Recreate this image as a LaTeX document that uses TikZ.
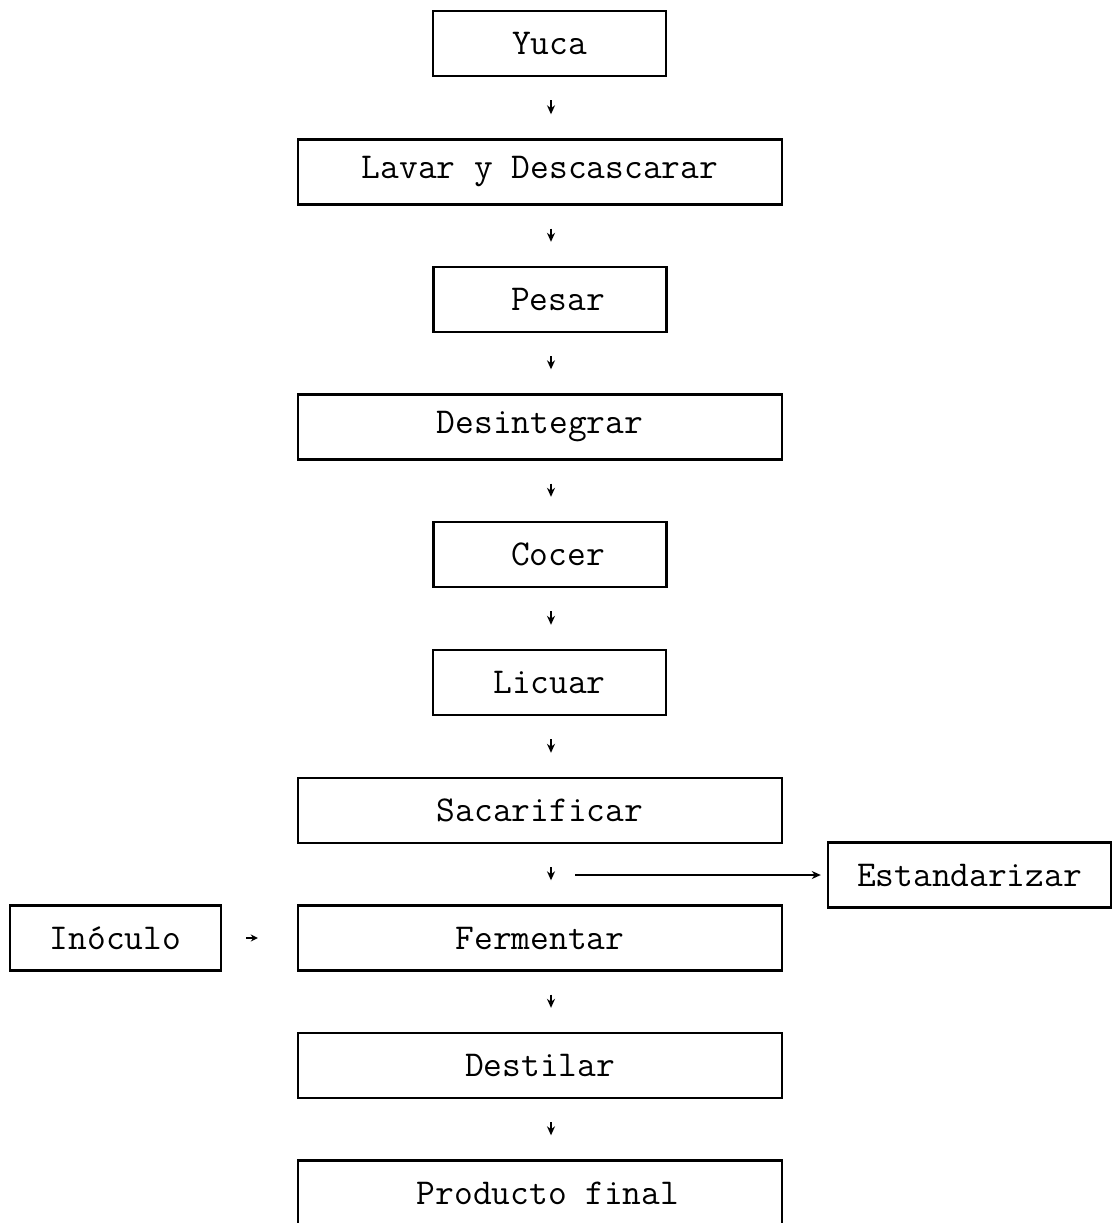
\documentclass[tikz,border=0pt]{standalone}
\usepackage{tikz}
\usetikzlibrary{arrows.meta,positioning}
\tikzset{
  >={Stealth[length=4.5pt,width=4pt]},
  stage/.style={draw=black,line width=1.2pt,minimum height=32.5pt,inner sep=0pt,
                font=\ttfamily\fontsize{18.2}{22}\selectfont},
  narrow/.style={stage,minimum width=116.5pt},
  wide/.style={stage,minimum width=242pt},
  down/.style={->,line width=.7pt,shorten <=11.5pt,shorten >=12pt},
  feed/.style={->,line width=1pt}
}
\begin{document}
\begin{tikzpicture}[x=0.5pt,y=-0.5pt]
  \useasboundingbox (0,0) rectangle (1114,1223);
  \node[narrow] (yuca) at (549.5,43.5) {Yuca};
  \node[wide] (lavar) at (540,172) {Lavar y Descascarar};
  \node[narrow] (pesar) at (550,299.5) {\hspace{8pt}Pesar};
  \node[wide] (desint) at (540,427) {Desintegrar};
  \node[narrow] (cocer) at (550,554.5) {\hspace{8pt}Cocer};
  \node[narrow] (licuar) at (549.5,682.5) {Licuar};
  \node[wide] (sacar) at (540,810.5) {Sacarificar};
  \node[wide] (ferm) at (540,938) {Fermentar};
  \node[wide] (destil) at (540,1065.5) {Destilar\hspace{10pt}};
  \node[wide] (prod) at (540,1193) {\hspace{8pt}Producto final};
  \node[stage,minimum width=141.5pt] (estand) at (969.5,875) {Estandarizar};
  \node[stage,minimum width=105.5pt] (inoc) at (115.5,938) {Inóculo};
  \coordinate (axis) at (551,0);
  \coordinate (split) at (575,875);
  \foreach \a/\b in {yuca/lavar,lavar/pesar,pesar/desint,desint/cocer,cocer/licuar,
                     licuar/sacar,sacar/ferm,ferm/destil,destil/prod}
    \draw[down] (\a.south -| axis) -- (\b.north -| axis);
  \draw[feed] (split) -- (estand.west) [shorten >=3pt];
  \draw[->,line width=.7pt,shorten <=12pt,shorten >=19.5pt,>={Stealth[length=3.5pt,width=3.5pt]}] (inoc.east) -- (ferm.west);
\end{tikzpicture}
\end{document}
